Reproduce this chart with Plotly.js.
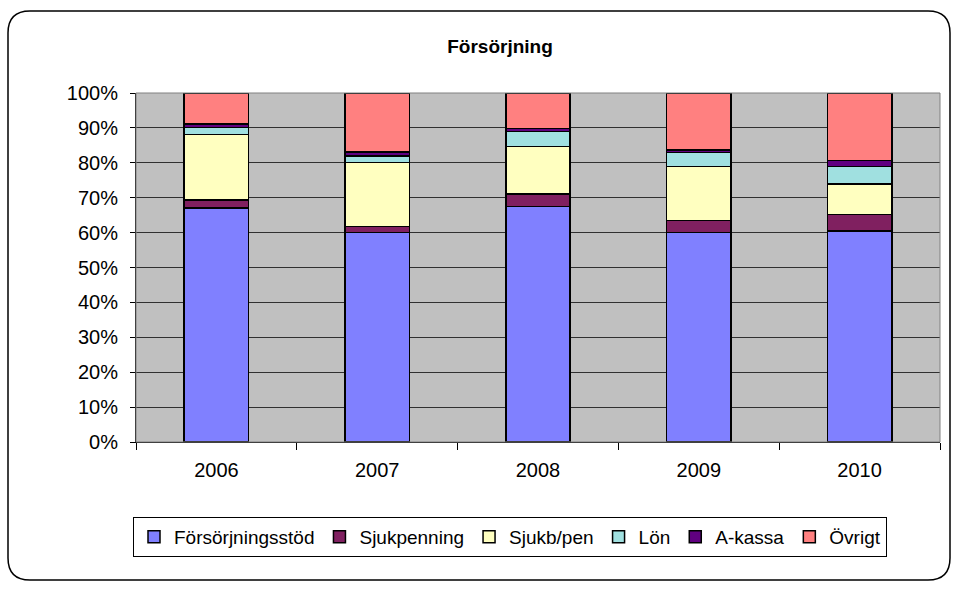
<!DOCTYPE html>
<html><head><meta charset="utf-8">
<script src="https://cdn.plot.ly/plotly-3.0.1.min.js"></script>
<style>html,body{margin:0;padding:0;background:#fff}#c{width:959px;height:590px}</style>
</head><body><div id="c"></div>
<script>
const years = ["2006","2007","2008","2009","2010"];
const forsorjningsstod = [67.0, 60.0, 67.5, 60.1, 60.4];
const sjukpenning = [2.3, 1.8, 3.5, 3.4, 4.8];
const sjukbPen = [18.8, 18.3, 13.7, 15.5, 8.7];
const lon = [2.0, 1.9, 4.2, 4.0, 5.0];
const aKassa = [1.0, 1.1, 1.0, 0.6, 1.8];
const ovrigt = [8.9, 16.9, 10.1, 16.4, 19.3];
const seriesNames = ["Försörjningsstöd","Sjukpenning","Sjukb/pen","Lön","A-kassa","Övrigt"];
const seriesColors = ["#8080FF","#802060","#FFFFC0","#A0E0E0","#600080","#FF8080"];
const yTickVals = [0,10,20,30,40,50,60,70,80,90,100];
const yTickText = yTickVals.map(v => v + "%");

const allSeries = [forsorjningsstod, sjukpenning, sjukbPen, lon, aKassa, ovrigt];
const traces = allSeries.map((vals, i) => ({
  type: "bar", x: years, y: vals, name: seriesNames[i],
  marker: {color: seriesColors[i], line: {color: "#000", width: 1.5}},
  hoverinfo: "skip"
}));

const W = 959, H = 590, L = 136, R = 19, T = 93, B = 148;
const pw = W - L - R, ph = H - T - B;
function px(x){ return (x - L) / pw; }
function py(y){ return (H - B - y) / ph; }

const rx0 = 8, ry0 = 11, rx1 = 950, ry1 = 580, rr = 22;

const layout = {
  width: W, height: H,
  margin: {l: L, r: R, t: T, b: B, pad: 0},
  paper_bgcolor: "#fff", plot_bgcolor: "#C0C0C0",
  font: {family: "Liberation Sans, Arial, sans-serif", size: 20, color: "#000"},
  barmode: "stack", bargap: 0.6,
  showlegend: true,
  title: {text: "<b>Försörjning</b>", font: {size: 19}, x: 500 / W, xanchor: "center", xref: "container", y: 1 - 46 / H, yanchor: "middle"},
  xaxis: {
    type: "category", tickson: "boundaries", ticks: "outside", ticklen: 7, tickcolor: "#000", tickwidth: 1,
    showline: true, linecolor: "#000", linewidth: 1, showgrid: false, zeroline: false,
    tickfont: {size: 20}, ticklabelstandoff: 10, fixedrange: true
  },
  yaxis: {
    range: [0, 100], tickvals: yTickVals, ticktext: yTickText, ticks: "outside", ticklen: 5,
    tickcolor: "#000", showline: true, linecolor: "#000", linewidth: 1,
    showgrid: true, gridcolor: "#303030", gridwidth: 1, zeroline: false,
    tickfont: {size: 20}, ticklabelstandoff: 8, fixedrange: true
  },
  legend: {
    orientation: "h", x: px(133), xanchor: "left", y: py(517), yanchor: "top",
    bordercolor: "#000", borderwidth: 1, bgcolor: "#fff",
    font: {size: 19}, traceorder: "normal", itemwidth: 30
  },
  shapes: [
    {type: "rect", xref: "paper", yref: "paper", x0: 0, x1: 1, y0: 0, y1: 1, line: {color: "#808080", width: 1}, layer: "above"}
  ]
};
layout.shapes.push({type: "path", xref: "paper", yref: "paper", xsizemode: "pixel", ysizemode: "pixel",
  xanchor: px(0), yanchor: py(0),
  path: (function(){
    const f = (x, y) => `${x} ${-y}`;
    return `M ${f(rx0+rr,ry0)} L ${f(rx1-rr,ry0)} Q ${f(rx1,ry0)} ${f(rx1,ry0+rr)} L ${f(rx1,ry1-rr)} Q ${f(rx1,ry1)} ${f(rx1-rr,ry1)} L ${f(rx0+rr,ry1)} Q ${f(rx0,ry1)} ${f(rx0,ry1-rr)} L ${f(rx0,ry0+rr)} Q ${f(rx0,ry0)} ${f(rx0+rr,ry0)} Z`;
  })(),
  line: {color: "#000", width: 1.5}, fillcolor: "rgba(0,0,0,0)", layer: "below"});

Plotly.newPlot("c", traces, layout, {displayModeBar: false, staticPlot: true});
</script></body></html>
